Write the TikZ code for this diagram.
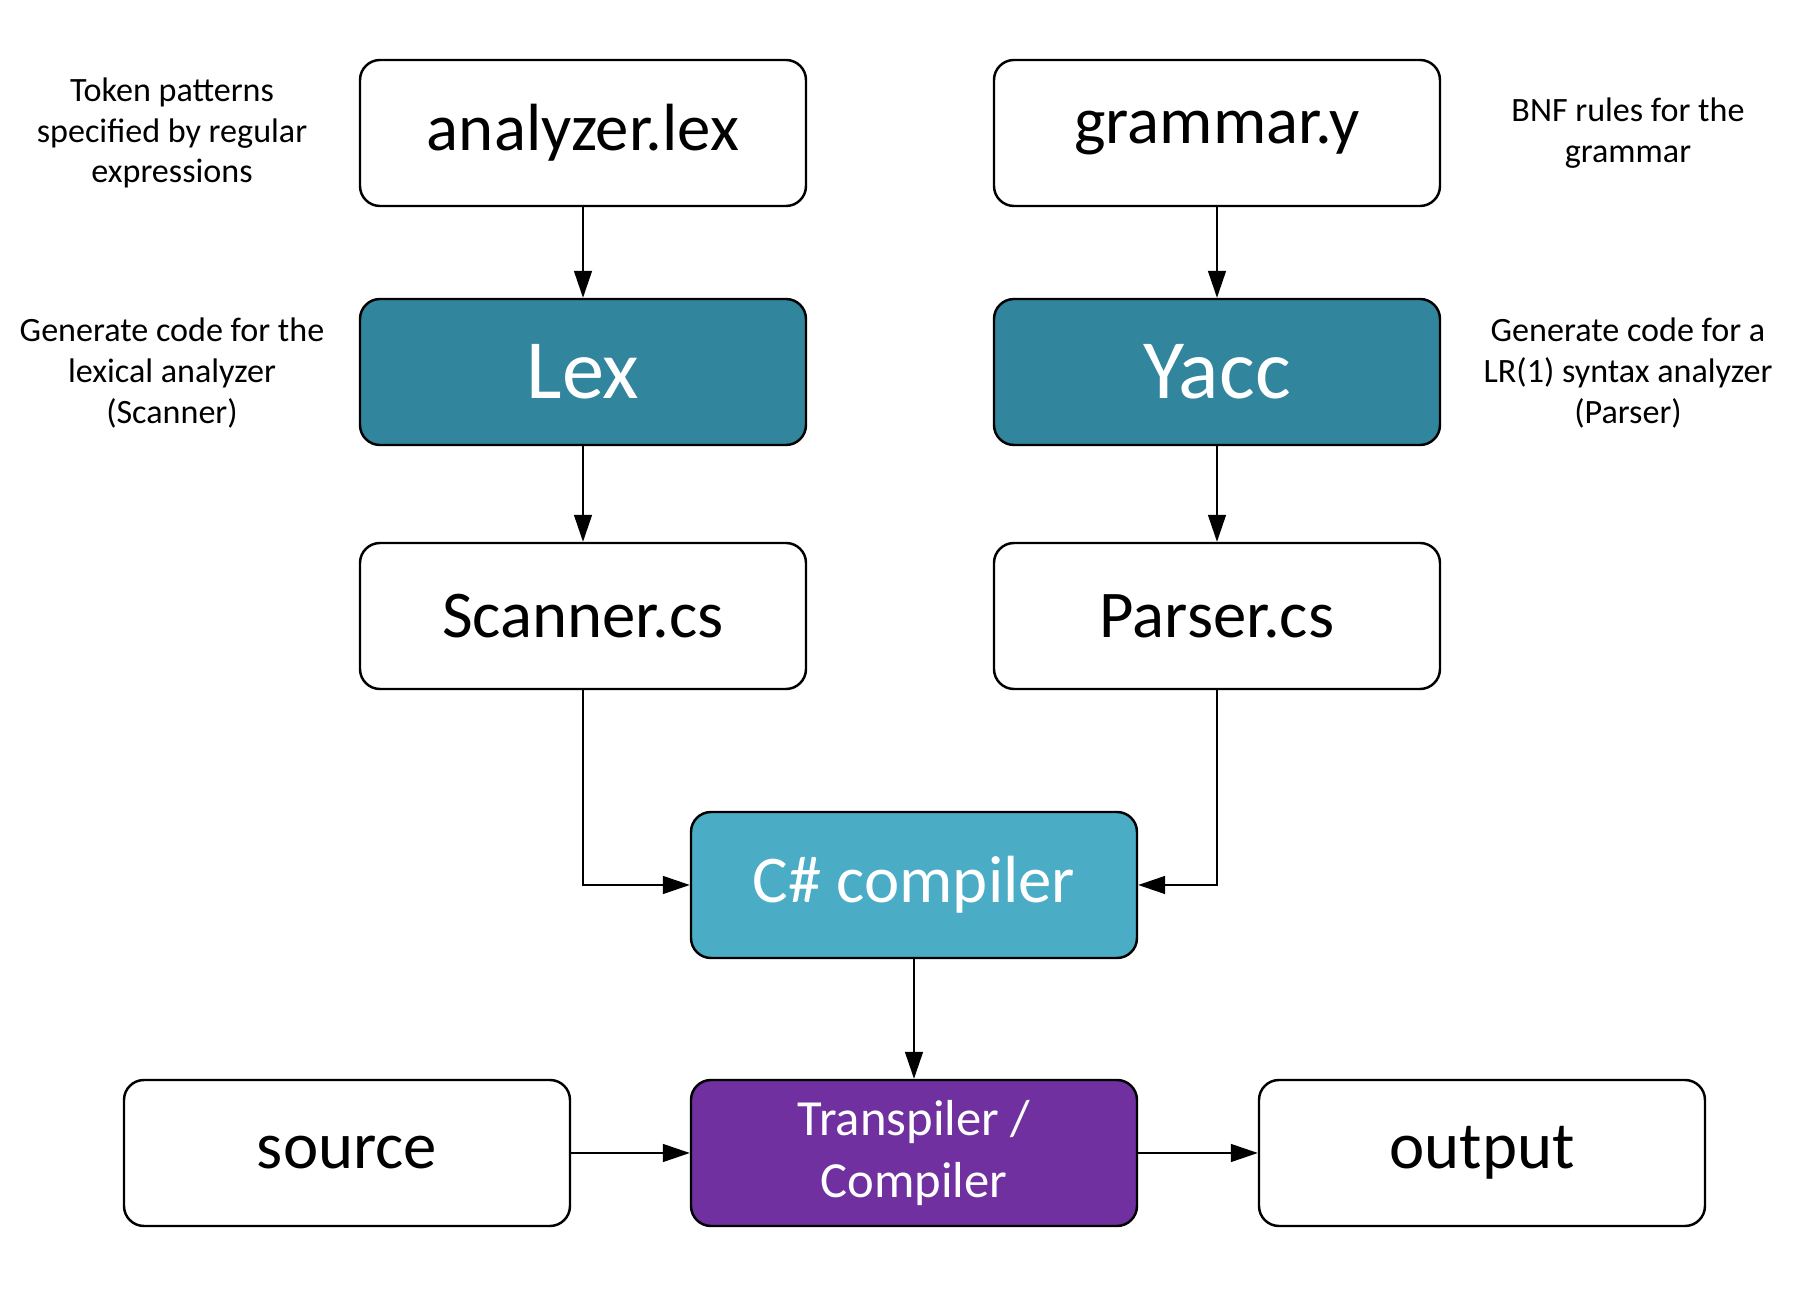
\documentclass[tikz,border=0pt]{standalone}
\usepackage{fontspec}
\setmainfont{Carlito}
\definecolor{lexteal}{HTML}{31859C}
\definecolor{csblue}{HTML}{4BACC6}
\definecolor{trpurple}{HTML}{7030A0}
\usetikzlibrary{arrows.meta,positioning}

\begin{document}
\begin{tikzpicture}[
    box/.style={rectangle, rounded corners=0.2cm, minimum width=4.46cm, minimum height=1.46cm,
      draw=black, line width=0.7pt, fill=white, align=center, font=\fontsize{19}{23}\selectfont},
    tool/.style={box, fill=lexteal, text=white, font=\fontsize{24}{28}\selectfont},
    note/.style={align=center, font=\fontsize{9.7}{11.6}\selectfont},
    arr/.style={-{Triangle[length=0.27cm, width=0.18cm]}, line width=0.45pt}
  ]
    \useasboundingbox (0,0) rectangle (18,-13);

    % Input specifications
    \node[box] (lexf) at (5.83,-1.33)  {analyzer.lex};
    \node[box] (gram) at (12.17,-1.33) {grammar.y};

    % Generators
    \node[tool] (lex)  at (5.83,-3.72)  {Lex};
    \node[tool] (yacc) at (12.17,-3.72) {Yacc};

    % Generated code
    \node[box] (scan) at (5.83,-6.16)  {Scanner.cs};
    \node[box] (pars) at (12.17,-6.16) {Parser.cs};

    % Compilation
    \node[box, fill=csblue, text=white] (csc) at (9.14,-8.85) {C\# compiler};
    \node[box, fill=trpurple, text=white, font=\fontsize{14.4}{17.6}\selectfont]
      (trans) at (9.14,-11.53) {Transpiler /\\Compiler};
    \node[box] (src) at (3.47,-11.53)  {source};
    \node[box] (out) at (14.82,-11.53) {output};

    \draw[arr] (lexf.south) -- (lex.north);
    \draw[arr] (lex.south) -- (scan.north);
    \draw[arr] (gram.south) -- (yacc.north);
    \draw[arr] (yacc.south) -- (pars.north);
    \draw[arr] (scan.south) |- (csc.west);
    \draw[arr] (pars.south) |- (csc.east);
    \draw[arr] (csc.south) -- (trans.north);
    \draw[arr] (src.east) -- (trans.west);
    \draw[arr] (trans.east) -- (out.west);

    % Side notes
    \node[note] (nlexf) at (1.72,-1.33)  {Token patterns\\specified by regular\\expressions};
    \node[note] (nlex)  at (1.72,-3.73)  {Generate code for the\\lexical analyzer\\(Scanner)};
    \node[note] (ngram) at (16.28,-1.33) {BNF rules for the\\grammar};
    \node[note] (nyacc) at (16.28,-3.73) {Generate code for a\\LR(1) syntax analyzer\\(Parser)};
  \end{tikzpicture}
\end{document}
